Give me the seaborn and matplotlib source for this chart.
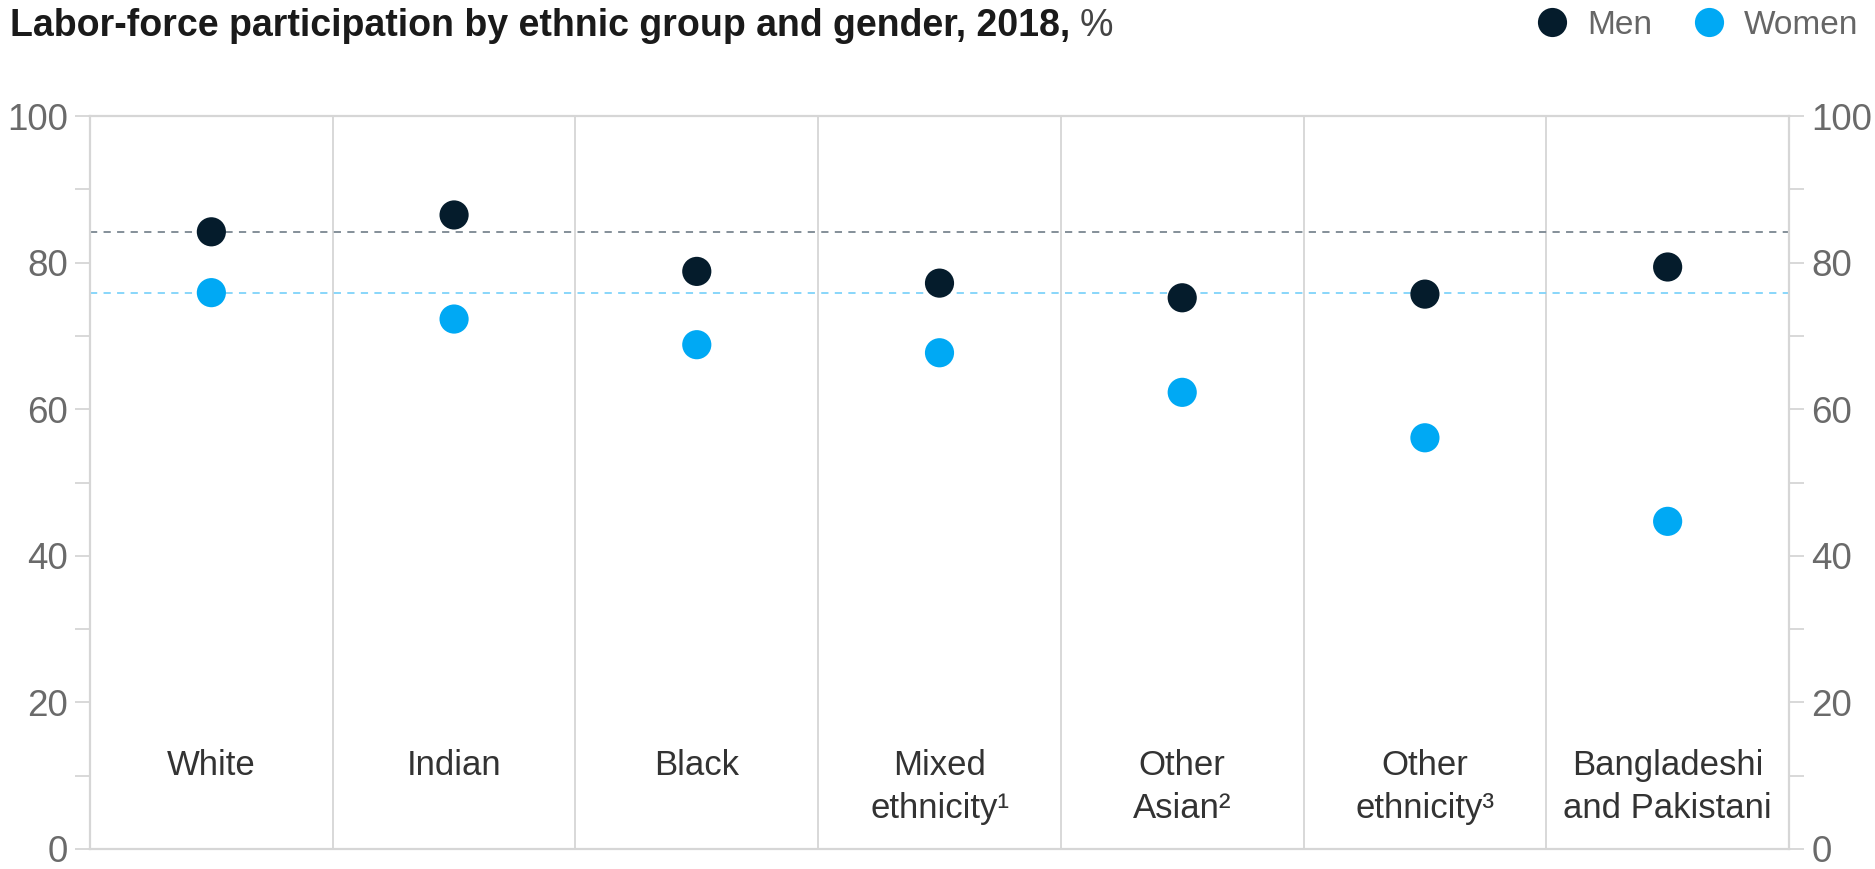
import matplotlib
matplotlib.use("Agg")
import matplotlib.pyplot as plt
import seaborn as sns
import pandas as pd
from matplotlib.lines import Line2D

groups = ["White", "Indian", "Black", "Mixed\nethnicity¹", "Other\nAsian²",
          "Other\nethnicity³", "Bangladeshi\nand Pakistani"]
men = [84.2, 86.5, 78.8, 77.2, 75.2, 75.7, 79.4]
women = [75.9, 72.3, 68.8, 67.7, 62.3, 56.1, 44.7]
series = ["Men", "Women"]
colors = {"Men": "#051C2C", "Women": "#00A9F4"}
yticks = [0, 20, 40, 60, 80, 100]
minor_ticks = [10, 30, 50, 70, 90]

df = pd.DataFrame({
    "group": groups * 2,
    "value": men + women,
    "gender": ["Men"] * len(groups) + ["Women"] * len(groups),
})

sns.set_theme(style="white")
plt.rcParams["font.family"] = ["Liberation Sans", "DejaVu Sans"]

fig = plt.figure(figsize=(18.75, 8.69), dpi=100)
ax = fig.add_axes([90 / 1875, 1 - 849 / 869, (1789 - 90) / 1875, (849 - 116) / 869])

grid_c = "#d6d6d6"
# reference lines (White men / White women)
ax.axhline(men[0], color="#7b8791", lw=1.3, ls=(0, (4, 3.5)), zorder=1)
ax.axhline(women[0], color="#7fd3fa", lw=1.3, ls=(0, (4, 3.5)), zorder=1)
for i in range(len(groups) - 1):
    ax.axvline(i + 0.5, color=grid_c, lw=1.3, zorder=0)

sns.stripplot(data=df, x="group", y="value", hue="gender", hue_order=series,
              palette=colors, jitter=False, dodge=False, size=21, linewidth=0,
              ax=ax, zorder=3, legend=False)

ax.set_xlim(-0.5, len(groups) - 0.5)
ax.set_ylim(0, 100)
ax.set_xlabel("")
ax.set_ylabel("")
ax.set_xticks([])
ax.set_yticks(yticks)
ax.set_yticks(minor_ticks, minor=True)
ax.tick_params(axis="y", which="both", left=True, right=True, labelleft=True,
               labelright=True, length=11, width=1.3, color=grid_c, pad=5,
               labelsize=26.5, labelcolor="#6a6a6a")
for s in ["left", "right", "top", "bottom"]:
    ax.spines[s].set_visible(True)
    ax.spines[s].set_color(grid_c)
    ax.spines[s].set_linewidth(1.6)

for i, g in enumerate(groups):
    ax.text(i, 13.7, g, ha="center", va="top", fontsize=25, color="#333333",
            linespacing=1.42)

# Title
ty = 1 - 26 / 869
t = fig.text(10 / 1875, ty, "Labor-force participation by ethnic group and gender, 2018,",
             fontsize=27, fontweight="bold", color="#1a1a1a", va="center", ha="left")
fig.canvas.draw()
bb = t.get_window_extent()
fig.text((bb.x1 + 9) / 1875, ty, "%", fontsize=27, color="#444444",
         va="center", ha="left")

# Legend
handles = [Line2D([], [], marker="o", ls="", markersize=21, markeredgewidth=0,
                  color=colors[s]) for s in series]
fig.legend(handles, series, loc="center right", bbox_to_anchor=(1858 / 1875, 1 - 25 / 869),
           ncol=2, frameon=False, fontsize=24, handletextpad=0.55, columnspacing=1.2,
           labelcolor="#666666", borderaxespad=0, borderpad=0, handlelength=1.0)

fig.savefig("out.png", dpi=100)
